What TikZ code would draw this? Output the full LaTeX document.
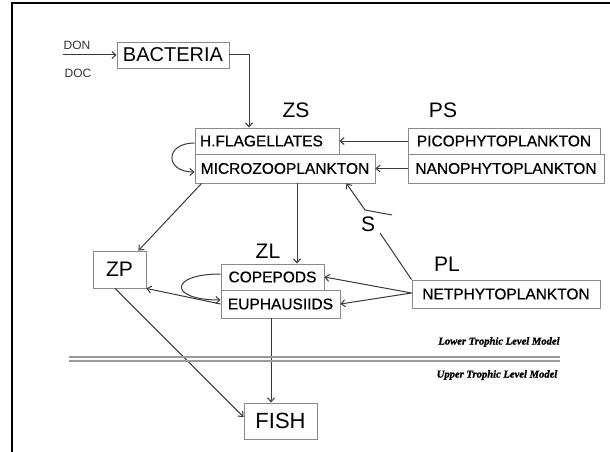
\documentclass[tikz,border=0pt]{standalone}
\usepackage{fontspec}
\setmainfont{Liberation Sans}
\newfontfamily\serifbi{Liberation Serif}
\newfontfamily\boxfont{Liberation Sans}[FakeBold=0.6]
\newfontfamily\modelfont{Liberation Serif}[BoldItalicFont={Liberation Serif Bold Italic}, BoldItalicFeatures={FakeBold=1.2}]
\usetikzlibrary{arrows.meta,calc}
\definecolor{boxgray}{HTML}{8A8A8A}
\definecolor{linegray}{HTML}{3A3A3A}
\definecolor{dblgray}{HTML}{9A9A9A}
\tikzset{
  box/.style={draw=boxgray, line width=0.9pt, inner sep=0pt, align=center, font=\boxfont\fontsize{15.5}{15.5}\selectfont},
  lab/.style={font=\fontsize{21}{21}\selectfont, inner sep=0pt},
  small/.style={font=\fontsize{12}{12}\selectfont, inner sep=0pt, text=black!80},
  model/.style={font=\modelfont\bfseries\itshape\fontsize{10.6}{10.6}\selectfont, inner sep=0pt},
  arr/.style={draw=linegray, line width=1pt, -{Straight Barb[length=4pt,width=7pt]}},
  ln/.style={draw=linegray, line width=1pt},
  dbl/.style={draw=dblgray, line width=1.3pt},
}
\begin{document}
\begin{tikzpicture}[x=1pt,y=-1pt]
\useasboundingbox (0,0) rectangle (610,452);
\fill[white] (0,0) rectangle (610,452);
% frame
\draw[line width=2.5pt, black] (12,452) -- (12,3) -- (610,3);

% nodes
\node[box, minimum width=112pt, minimum height=26pt, font=\fontsize{20}{20}\selectfont] (bact) at (173,55) {BACTERIA};
\node[box, text width=134pt, inner xsep=5pt, minimum height=26pt, align=left] (hflag) at (267,141) {H.FLAGELLATES};
\node[box, minimum width=180pt, minimum height=29pt] (micro) at (285,168.5) {MICROZOOPLANKTON};
\node[box, minimum width=192pt, minimum height=26pt] (pico) at (504,141) {PICOPHYTOPLANKTON};
\node[box, minimum width=196pt, minimum height=29pt] (nano) at (506,168.5) {NANOPHYTOPLANKTON};
\node[box, minimum width=103pt, minimum height=26pt] (cope) at (272.5,277) {COPEPODS};
\node[box, minimum width=119pt, minimum height=28pt] (euph) at (280.5,304) {EUPHAUSIIDS};
\node[box, minimum width=53pt, minimum height=37pt, font=\fontsize{21}{21}\selectfont] (zp) at (119.5,269.5) {ZP};
\node[box, minimum width=188pt, minimum height=28pt] (net) at (506,294) {NETPHYTOPLANKTON};
\node[box, minimum width=73pt, minimum height=36pt, font=\fontsize{22}{22}\selectfont] (fish) at (280.5,421) {FISH};

% labels
\node[lab] (zs) at (296,110) {ZS};
\node[lab] (ps) at (443,110) {PS};
\node[lab] (zl) at (268,251) {ZL};
\node[lab] (pl) at (447,264) {PL};
\node[lab] (s) at (368,224) {S};
\node[small] (don) at (77,45) {DON};
\node[small] (doc) at (78,73) {DOC};
\node[model] (lower) at (499,342) {Lower Trophic Level Model};
\node[model] (upper) at (497,375) {Upper Trophic Level Model};

% coordinates
\coordinate (din) at (63,55);
\coordinate (sl) at (380,233);
\coordinate (sw) at (365,210);
\coordinate (st) at (392,215);
\coordinate (dl1) at (69,357);
\coordinate (dr1) at (560,357);
\coordinate (dl2) at (69,361);
\coordinate (dr2) at (560,361);

% connectors
\draw[arr] (din) -- (bact.west);
\draw[arr] (bact.east) -| ([xshift=-18pt]hflag.north);
\draw[arr] (pico.west) -- (hflag.east);
\draw[arr] (nano.west) -- (micro.east);
\draw[arr] ([yshift=-2pt]hflag.west) .. controls +(-30,0) and +(-30,0) .. ([yshift=-3.5pt]micro.west);
\draw[arr] ([xshift=12pt]micro.south) -- ([xshift=12pt]micro.south |- cope.north);
\draw[arr] ([xshift=7pt]micro.south west) -- ([xshift=-8pt]zp.north east);
\draw[arr] (euph.west) -- (zp.south east);
\draw[arr] ([yshift=3pt]cope.west) .. controls +(-52,0) and +(-52,0) .. ([yshift=4pt]euph.west);
\draw[arr] ([yshift=1pt]net.west) -- (cope.east);
\draw[arr] ([yshift=1pt]net.west) -- (euph.east);
\draw[ln] (net.north west) -- (sl);
\draw[arr] (sw) -- ([xshift=-29pt]micro.south east);
\draw[ln] (sw) -- (st);
\draw[arr] ([xshift=-9.5pt]euph.south) -- ([xshift=-9.5pt]fish.north);
\draw[arr] ([xshift=-4.5pt]zp.south) -- ([yshift=4pt]fish.west);

% double line
\draw[dbl] (dl1) -- (dr1);
\draw[dbl] (dl2) -- (dr2);
\end{tikzpicture}
\end{document}
